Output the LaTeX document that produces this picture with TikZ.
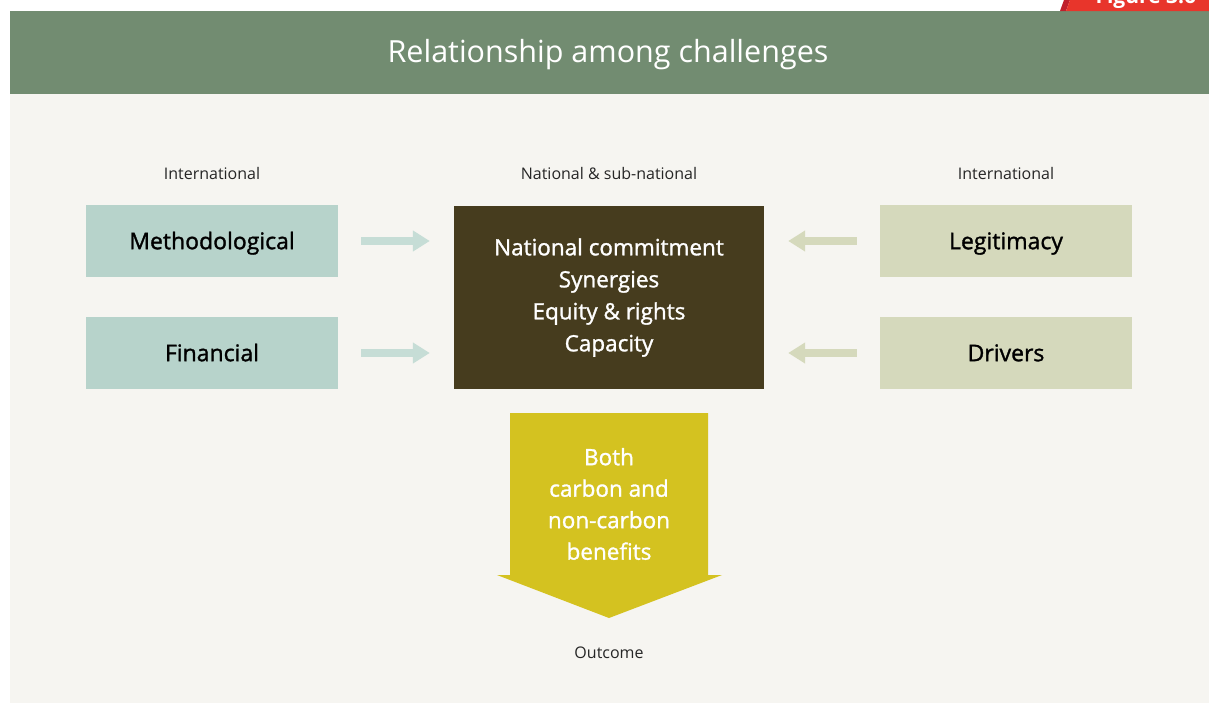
\documentclass[tikz,border=0pt]{standalone}
\usepackage{fontspec}
\setmainfont{Open Sans}
\newfontfamily\medfont[FakeBold=1.3]{Open Sans}
\usetikzlibrary{arrows.meta}
\definecolor{hdr}{HTML}{728C71}
\definecolor{panel}{HTML}{F6F5F1}
\definecolor{teal}{HTML}{B7D3CB}
\definecolor{olive}{HTML}{D5D9BC}
\definecolor{core}{HTML}{463C1E}
\definecolor{gold}{HTML}{D4C220}
\definecolor{tarrow}{HTML}{C6DDD6}
\definecolor{oarrow}{HTML}{D5D9BC}
\definecolor{tabred}{HTML}{E8352B}
\definecolor{tabdark}{HTML}{C01F2B}
\tikzset{
  box/.style={minimum width=252pt, minimum height=72pt, inner sep=0pt, font=\medfont\fontsize{23}{27}\selectfont, text=black, text height=16.4pt, text depth=0pt},
  tbox/.style={box, fill=teal},
  obox/.style={box, fill=olive},
  lbl/.style={font=\fontsize{16}{19}\selectfont, text=black!85, inner sep=0pt},
  thinarrow/.style={line width=8pt, -{Triangle[length=17pt,width=20pt]}, shorten >=0pt},
}
\begin{document}
\begin{tikzpicture}[x=1pt,y=-1pt]
\useasboundingbox (0,0) rectangle (1209,704);
\fill[white] (0,0) rectangle (1209,704);
% panel
\fill[panel] (10,94) rectangle (1209,703);
% header
\fill[hdr] (10,11) rectangle (1209,94);
\node[font=\fontsize{30.5}{36}\selectfont, text=white] (title) at (608,55) {Relationship among challenges};
% red tab
\fill[tabdark] (1060,11) -- (1064,0) -- (1070,0) -- (1066,11) -- cycle;
\fill[tabred] (1066,11) -- (1070,0) -- (1209,0) -- (1209,11) -- cycle;
\begin{scope}
\clip (1066,0) rectangle (1209,11);
\node[font=\fontsize{21}{25}\selectfont\bfseries, text=white, anchor=base west] (tab) at (1092,4) {Figure 3.6};
\end{scope}
% labels
\node[lbl] (l1) at (212,173) {International};
\node[lbl] (l2) at (609,173) {National \& sub-national};
\node[lbl] (l3) at (1006,173) {International};
% boxes
\node[tbox] (meth) at (212,241) {Methodological};
\node[tbox] (fin) at (212,353) {Financial};
\node[obox] (leg) at (1006,241) {Legitimacy};
\node[obox] (drv) at (1006,353) {Drivers};
\node[fill=core, minimum width=310pt, minimum height=183pt, inner sep=0pt, text=white, align=center, font=\medfont\fontsize{22.5}{32}\selectfont] (core) at (609,297.5) {National commitment\\Synergies\\Equity \& rights\\Capacity};
% small arrows
\draw[thinarrow, tarrow] ([xshift=23pt]meth.east) -- ([xshift=-24pt]core.west |- meth.east);
\draw[thinarrow, tarrow] ([xshift=23pt]fin.east) -- ([xshift=-24pt]core.west |- fin.east);
\draw[thinarrow, oarrow] ([xshift=-23pt]leg.west) -- ([xshift=24pt]core.east |- leg.west);
\draw[thinarrow, oarrow] ([xshift=-23pt]drv.west) -- ([xshift=24pt]core.east |- drv.west);
% big down arrow
\fill[gold] (510,413) -- (708,413) -- (708,575) -- (722,575) -- (609,618) -- (497,575) -- (510,575) -- cycle;
\node[text=white, align=center, font=\medfont\fontsize{22.5}{31.5}\selectfont, inner sep=0pt] (out) at (609,504) {Both\\carbon and\\non-carbon\\benefits};
\node[lbl] (oc) at (609,653) {Outcome};
\end{tikzpicture}
\end{document}
